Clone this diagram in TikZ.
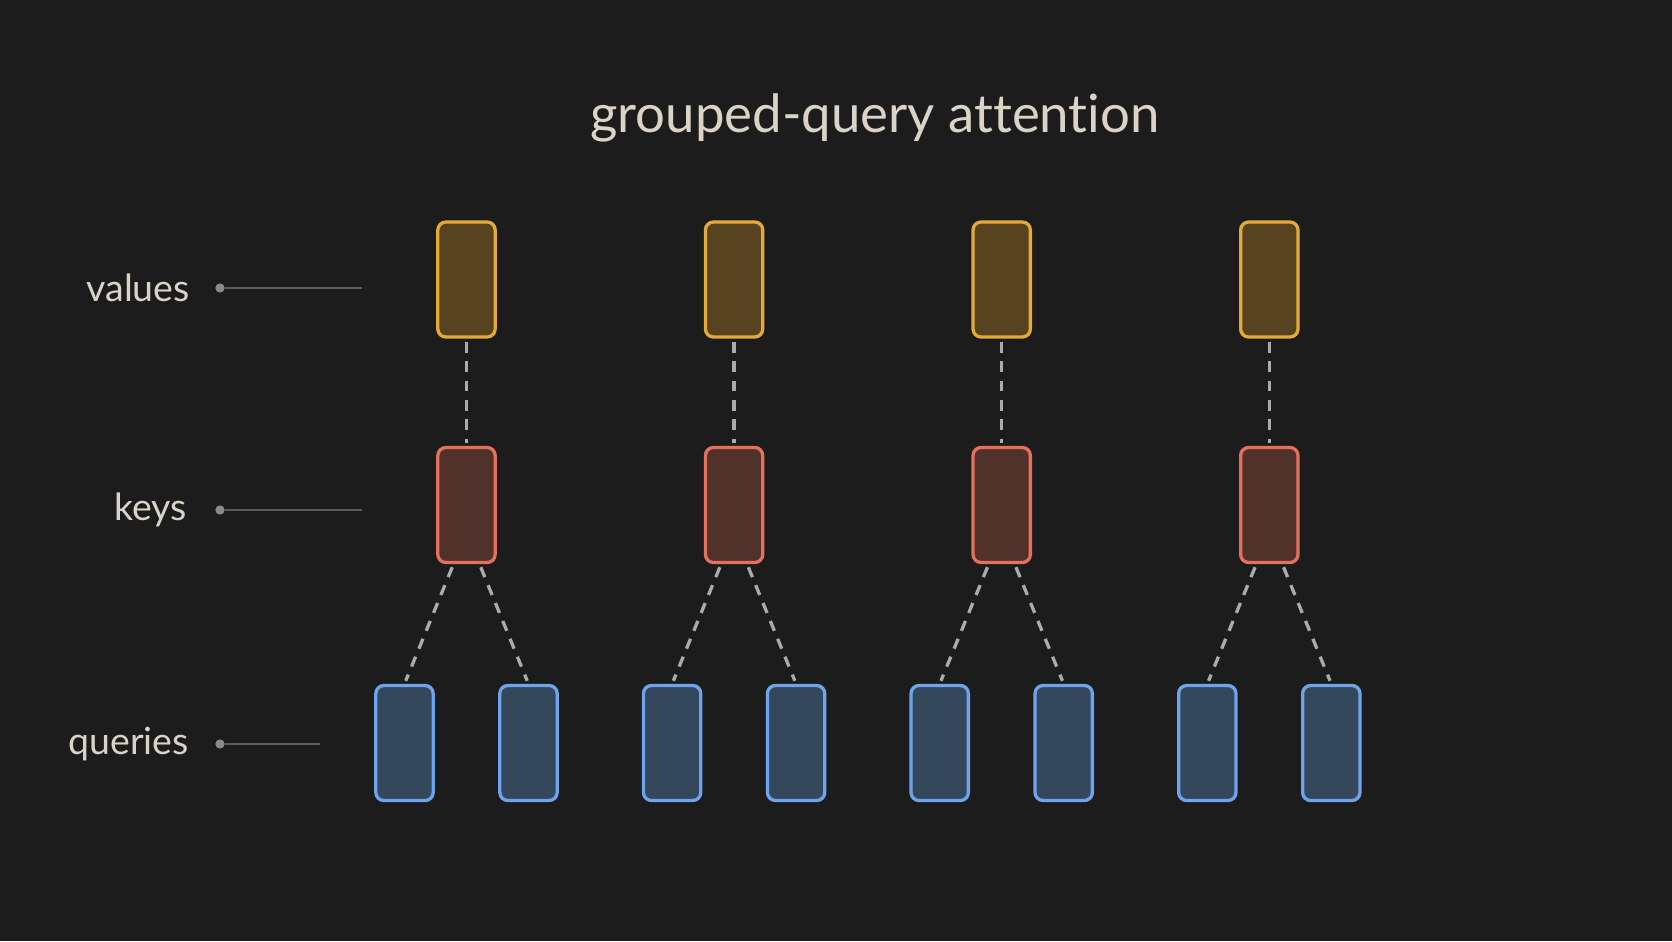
\documentclass[tikz,border=0pt]{standalone}
\usepackage{fontspec}
\setmainfont{Lato}[Ligatures=NoCommon]
\usetikzlibrary{positioning}
\definecolor{bgcol}{HTML}{1C1C1C}
\definecolor{textcol}{HTML}{DAD3C6}
\definecolor{valfill}{HTML}{574320}
\definecolor{valdraw}{HTML}{E3A93B}
\definecolor{keyfill}{HTML}{50322A}
\definecolor{keydraw}{HTML}{E4705E}
\definecolor{qfill}{HTML}{34475B}
\definecolor{qdraw}{HTML}{6EA4EC}
\definecolor{linkcol}{HTML}{ABABAB}
\definecolor{guidecol}{HTML}{5C5C5C}
\definecolor{dotcol}{HTML}{8A8A8A}
\tikzset{
  headbox/.style={rectangle, rounded corners=0.24cm, line width=2.8pt,
    minimum width=1.72cm, minimum height=3.45cm, inner sep=0pt},
  valbox/.style={headbox, draw=valdraw, fill=valfill},
  keybox/.style={headbox, draw=keydraw, fill=keyfill},
  qbox/.style={headbox, draw=qdraw, fill=qfill},
  link/.style={draw=linkcol, line width=2.8pt, dash pattern=on 0.32cm off 0.26cm,
    shorten <=0.1cm, shorten >=0.1cm},
  rowlabel/.style={anchor=east, inner sep=0pt, text=textcol, font=\fontsize{32}{36}\selectfont},
  guidedot/.style={circle, fill=dotcol, minimum size=0.28cm, inner sep=0pt},
  guide/.style={draw=guidecol, line width=1.4pt},
}
\begin{document}
\begin{tikzpicture}[x=0.03cm, y=-0.03cm]
  \fill[bgcol] (0,0) rectangle (1672,941);
  \useasboundingbox (0,0) rectangle (1672,941);
  %title
  \node[text=textcol, font=\fontsize{45}{52}\selectfont] (title) at (875,118) {grouped-query attention};
  %row labels
  \node[rowlabel] (lval) at (190,288) {values};
  \node[rowlabel] (lkey) at (187,510) {keys};
  \node[rowlabel] (lq) at (189,744) {queries};
  \node[guidedot] (dval) at (220,288) {};
  \node[guidedot] (dkey) at (220,510) {};
  \node[guidedot] (dq) at (220,744) {};
  \coordinate (eval) at (362,288);
  \coordinate (ekey) at (362,510);
  \coordinate (eq) at (320,744);
  \draw[guide] (dval) -- (eval);
  \draw[guide] (dkey) -- (ekey);
  \draw[guide] (dq) -- (eq);
  %heads
  \foreach \i in {1,...,4} {
    \pgfmathsetmacro\cx{466.5+267.6*(\i-1)}
    \node[valbox] (v\i) at (\cx,279.5) {};
    \node[keybox] (k\i) at (\cx,505) {};
    \node[qbox] (q\i a) at (\cx-62,743) {};
    \node[qbox] (q\i b) at (\cx+62,743) {};
    \draw[link] (v\i) -- (k\i);
    \draw[link] ([xshift=-0.39cm]k\i.south) -- (q\i a.north);
    \draw[link] ([xshift=0.39cm]k\i.south) -- (q\i b.north);
  }
\end{tikzpicture}
\end{document}
